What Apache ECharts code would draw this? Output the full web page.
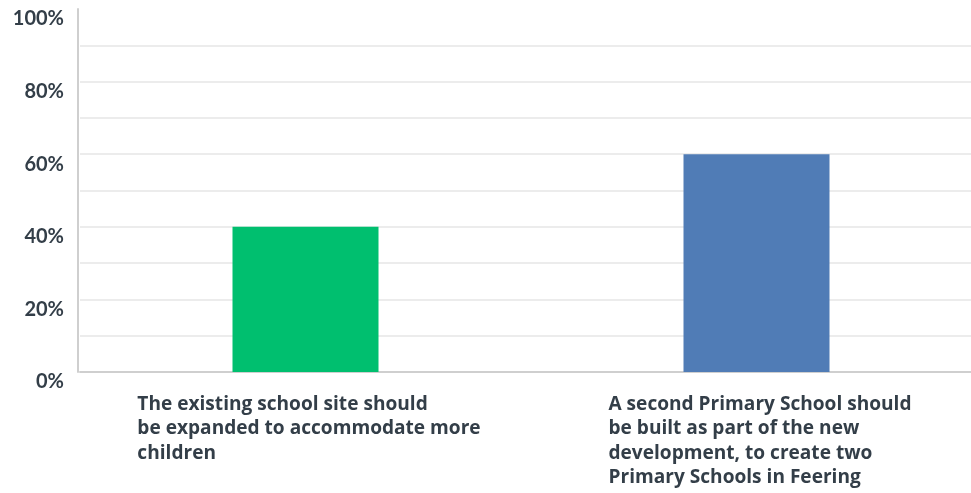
<!DOCTYPE html>
<html>
<head>
<meta charset="utf-8">
<script src="https://cdn.jsdelivr.net/npm/echarts@6/dist/echarts.min.js"></script>
<style>html,body{margin:0;padding:0;background:#fff}#c{width:971px;height:493px}</style>
</head>
<body>
<div id="c"></div>
<script>
const categories = [
  "The existing school site should\nbe expanded to accommodate more\nchildren",
  "A second Primary School should\nbe built as part of the new\ndevelopment, to create two\nPrimary Schools in Feering"
];
const values = [40, 60];
const barColors = ["#00bf6f", "#507cb6"];
const yTickLabels = [0, 20, 40, 60, 80, 100];

const chart = echarts.init(document.getElementById('c'), null, {renderer: 'canvas'});
const gridColors = [];
for (let v = 0; v <= 100; v += 10) gridColors.push(v === 100 ? 'rgba(0,0,0,0)' : '#ececec');

chart.setOption({
  animation: false,
  grid: {left: 80, width: 902, top: 9, bottom: 121, containLabel: false, outerBoundsMode: 'none'},
  xAxis: {
    type: 'category',
    data: categories,
    axisLine: {show: true, lineStyle: {color: '#cfcfcf', width: 2}},
    axisTick: {show: false},
    axisLabel: {
      interval: 0,
      margin: 20,
      padding: [0, 0, 0, 7],
      formatter: v => v.split('\n').map(l => '{a|' + l + '}').join('\n'),
      rich: {
        a: {align: 'left', fontFamily: 'Open Sans', fontWeight: 'bold', fontSize: 19.1, lineHeight: 24.5, color: '#333e48'}
      }
    }
  },
  yAxis: {
    type: 'value',
    min: 0, max: 100, interval: 10,
    offset: 2,
    axisLine: {show: true, lineStyle: {color: '#cfcfcf', width: 2}},
    axisTick: {show: false},
    splitLine: {show: true, lineStyle: {color: gridColors, width: 2}},
    axisLabel: {
      margin: 14,
      verticalAlign: 'top',
      fontFamily: 'Lato', fontWeight: 'bold', fontSize: 20, color: '#333e48',
      formatter: v => yTickLabels.includes(v) ? v + '%' : ''
    }
  },
  series: [{
    type: 'bar',
    barWidth: 146,
    data: values.map((v, i) => ({value: v, itemStyle: {color: barColors[i]}}))
  }]
});
</script>
</body>
</html>
